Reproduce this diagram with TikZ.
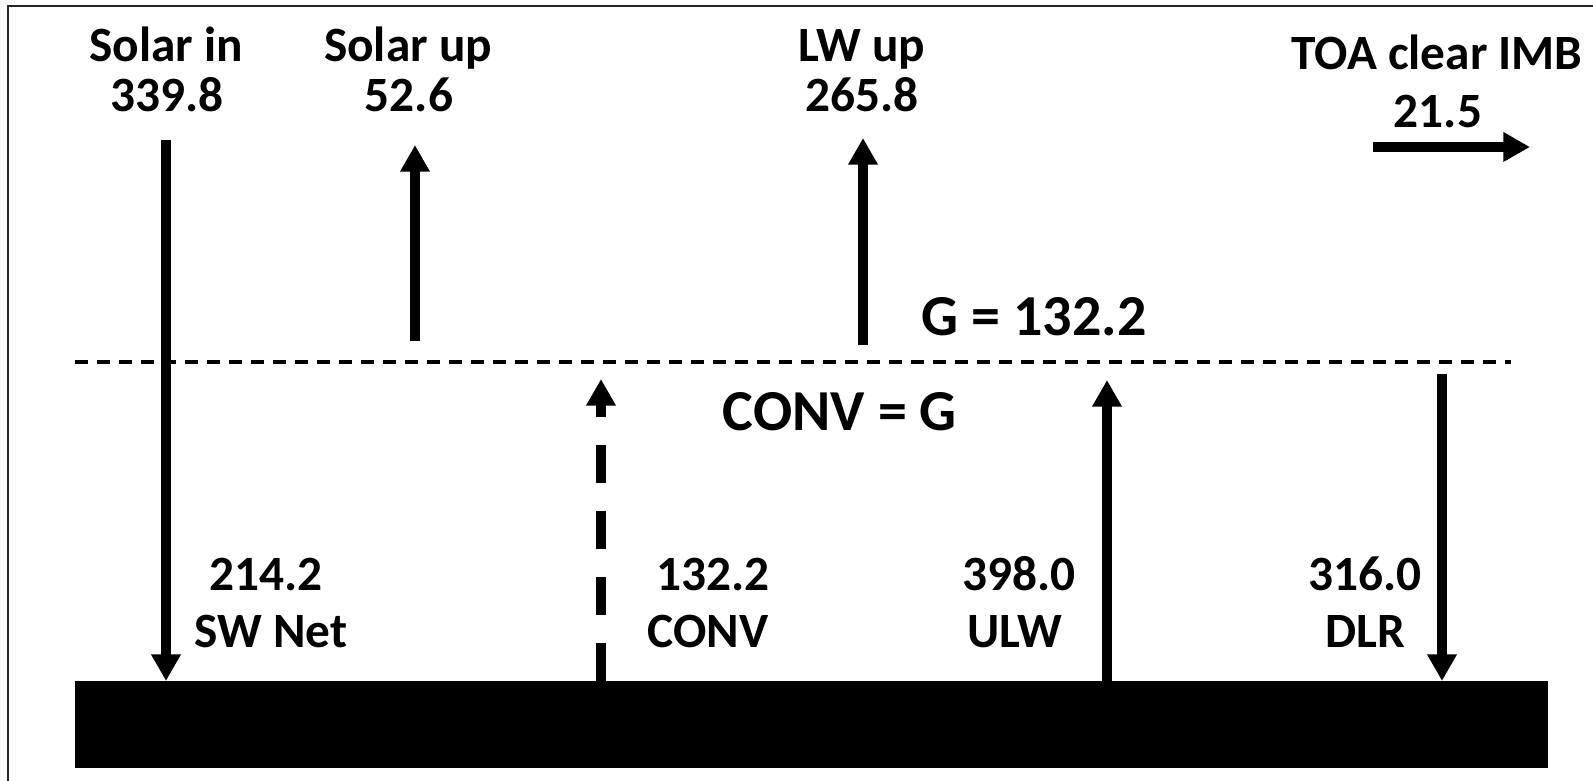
\documentclass[tikz,border=0pt]{standalone}
\usepackage{fontspec}
\setmainfont{Carlito}
\usetikzlibrary{arrows.meta}
\tikzset{
  px/.style={x=0.75pt,y=-0.75pt},
  lab/.style={font=\bfseries\fontsize{37}{37}\selectfont, inner sep=0pt, anchor=base},
  biglab/.style={font=\bfseries\fontsize{43.5}{43.5}\selectfont, inner sep=0pt, anchor=base},
  flow/.style={line width=7.5pt, -{Triangle[width=21pt,length=20pt]}},
  dflow/.style={line width=7.5pt, dash pattern=on 28.5pt off 21pt, -{Triangle[width=21pt,length=20pt]}},
  level/.style={line width=2.4pt, dash pattern=on 9.5pt off 7pt},
  frame/.style={line width=1.5pt, draw=black!85},
}
\begin{document}
\begin{tikzpicture}[px]
\useasboundingbox (0,0) rectangle (1593,781);
% frame (top and left edges)
\draw[frame] (8,781) -- (8,6) -- (1593,6);
% ground
\node[fill=black, inner sep=0pt, minimum width=1473*0.75pt, minimum height=87*0.75pt, anchor=north west] (ground) at (75,681) {};
% level line
\coordinate (lvL) at (75,362);
\coordinate (lvR) at (1511,362);
\draw[level] (lvL) -- (lvR);
% top labels
\node[lab] (solin) at (166,62) {Solar in};
\node[lab] (solinv) at (167,112) {339.8};
\node[lab] (solup) at (408,62) {Solar up};
\node[lab] (solupv) at (409,112) {52.6};
\node[lab] (lwup) at (862,62) {LW up};
\node[lab] (lwupv) at (862,112) {265.8};
\node[lab] (toa) at (1437,70) {TOA clear IMB};
\node[lab] (toav) at (1438,128) {21.5};
% middle labels
\node[biglab] (g) at (1034,335) {G = 132.2};
\node[biglab] (convg) at (840,430) {CONV = G};
% bottom labels
\node[lab] (swv) at (266,590) {214.2};
\node[lab] (sw) at (271,647) {SW Net};
\node[lab] (convv) at (713,590) {132.2};
\node[lab] (conv) at (708,647) {CONV};
\node[lab] (ulwv) at (1019,590) {398.0};
\node[lab] (ulw) at (1015,647) {ULW};
\node[lab] (dlrv) at (1365,590) {316.0};
\node[lab] (dlr) at (1365,647) {DLR};
% arrow end points
\coordinate (sinT) at (166,140);
\coordinate (supB) at (415,341);
\coordinate (supT) at (415,145);
\coordinate (lwB) at (863,345);
\coordinate (lwT) at (863,138);
\coordinate (cvT) at (601,379);
\coordinate (ulT) at (1107,380);
\coordinate (dlT) at (1442,374);
\coordinate (toaL) at (1373,147);
\coordinate (toaR) at (1530,147);
% arrows
\draw[flow] (sinT) -- (sinT |- ground.north);
\draw[flow] (supB) -- (supT);
\draw[flow] (lwB) -- (lwT);
\draw[dflow] (cvT |- ground.north) -- (cvT);
\draw[flow] (ulT |- ground.north) -- (ulT);
\draw[flow] (dlT) -- (dlT |- ground.north);
\draw[flow] (toaL) -- (toaR);
\end{tikzpicture}
\end{document}
